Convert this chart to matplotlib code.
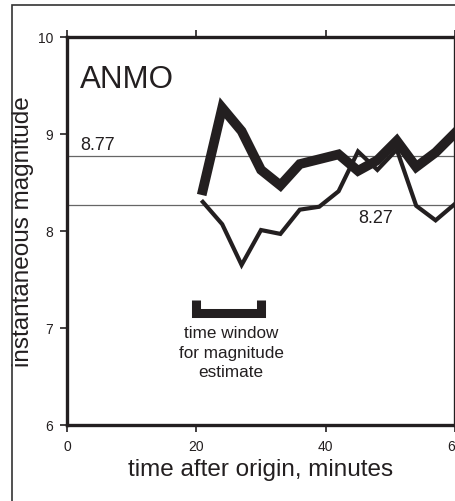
import matplotlib
matplotlib.use('Agg')
import matplotlib.pyplot as plt
from matplotlib.patches import Rectangle

plt.rcParams['font.family'] = ['Liberation Sans', 'DejaVu Sans']

# time after origin (minutes)
minutes = [21, 24, 27, 30, 33, 36, 39, 42, 45, 48, 51, 54, 57, 60]
# thick line: magnitude estimate over the window
mag_window = [8.42, 9.27, 9.03, 8.63, 8.47, 8.69, 8.74, 8.79, 8.62, 8.73, 8.93, 8.66, 8.81, 9.01]
# thin line: instantaneous magnitude
mag_inst = [8.30, 8.07, 7.65, 8.01, 7.97, 8.22, 8.25, 8.41, 8.82, 8.63, 8.84, 8.26, 8.11, 8.28]

ref_levels = [8.77, 8.27]
ref_labels = ['8.77', '8.27']
window = [20, 30]
station = 'ANMO'

fig = plt.figure(figsize=(4.56, 5.02), dpi=100)
ax = fig.add_axes([67 / 456, 1 - 426 / 502, 388 / 456, 388 / 502])

# outer frame of the panel
fig.patches.append(Rectangle((12 / 456, -0.1), 1.0, 1 - 6 / 502 + 0.1, transform=fig.transFigure,
                             fill=False, edgecolor='#333333', linewidth=1.2))

for lev in ref_levels:
    ax.axhline(lev, color='#666666', linewidth=0.9, zorder=1)

ax.plot(minutes, mag_inst, color='#231f20', linewidth=3.0, solid_joinstyle='miter', zorder=3)
ax.plot(minutes, mag_window, color='#231f20', linewidth=7, solid_joinstyle='miter', zorder=4)

# bracket for the time window
ax.plot([window[0], window[0], window[1], window[1]], [7.29, 7.15, 7.15, 7.29],
        color='#231f20', linewidth=6.5, solid_joinstyle='miter', solid_capstyle='butt')
ax.text(sum(window) / 2 + 0.4, 7.03, 'time window\nfor magnitude\nestimate', ha='center', va='top',
        fontsize=12.3, linespacing=1.38, color='#231f20')

ax.text(2.0, 9.57, station, fontsize=22.5, va='center', ha='left', color='#231f20')
ax.text(2.0, ref_levels[0] + 0.03, ref_labels[0], fontsize=13, va='bottom', ha='left', color='#231f20')
ax.text(45.1, ref_levels[1] - 0.04, ref_labels[1], fontsize=13, va='top', ha='left', color='#231f20')

ax.set_xlim(0, 60)
ax.set_ylim(6, 10)
ax.set_xticks([0, 20, 40, 60])
ax.set_yticks([6, 7, 8, 9, 10])
ax.tick_params(axis='both', direction='out', length=5, width=1.2, labelsize=10,
               colors='#231f20', pad=3)
ax.tick_params(axis='y', pad=5)
ax.tick_params(axis='x', top=True, labeltop=False, pad=5)

for side in ['left', 'bottom', 'top', 'right']:
    ax.spines[side].set_linewidth(2.4)
    ax.spines[side].set_color('#231f20')

ax.set_xlabel('time after origin, minutes', fontsize=17.5, color='#231f20', labelpad=4)
ax.set_ylabel('instantaneous magnitude', fontsize=17.5, color='#231f20')
ax.yaxis.set_label_coords(-0.085, 0.5)

fig.savefig('out.png', dpi=100)
